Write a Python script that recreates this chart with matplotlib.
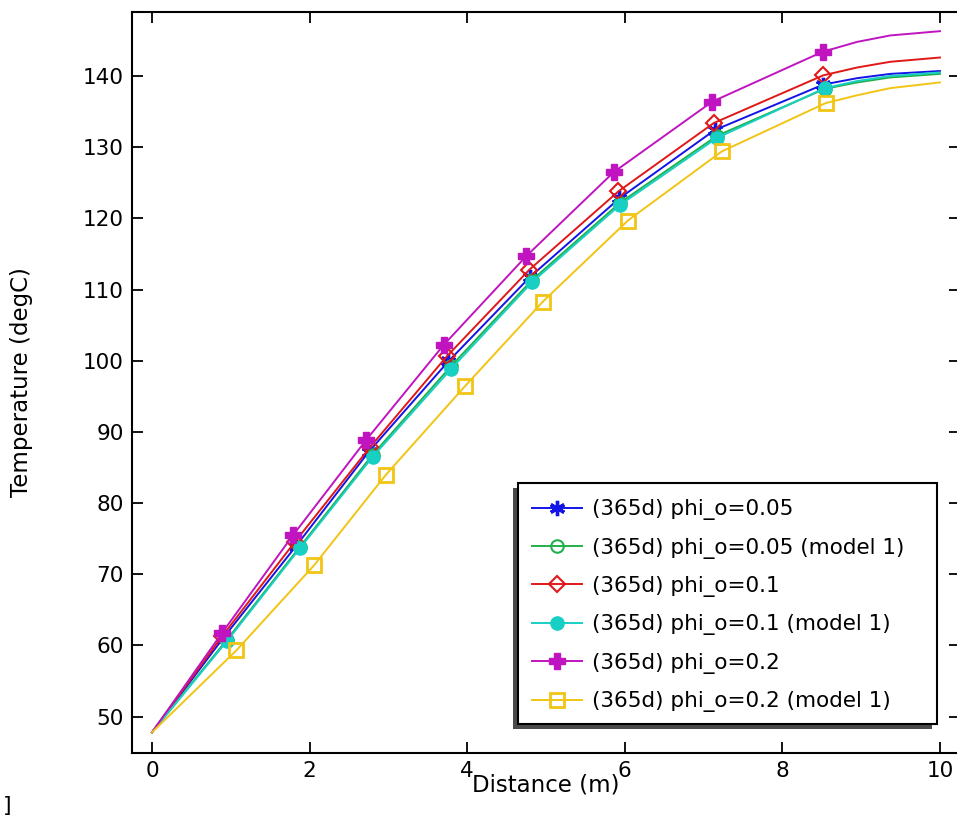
import matplotlib
matplotlib.use("Agg")
import matplotlib.pyplot as plt
from matplotlib.patches import Rectangle

# distance (m) and temperature (degC)
x_phi005 = [0, 0.90, 1.83, 2.75, 3.76, 4.80, 5.93, 7.14, 8.52, 8.95, 9.37, 10]
t_phi005 = [47.8, 61.0, 74.0, 87.2, 99.9, 111.8, 122.8, 132.4, 138.8, 139.7, 140.3, 140.7]

x_phi005_m1 = [0, 0.95, 1.88, 2.80, 3.80, 4.82, 5.94, 7.17, 8.54, 8.95, 9.37, 10]
t_phi005_m1 = [47.8, 60.8, 73.9, 86.8, 99.3, 111.3, 122.2, 131.6, 138.2, 139.1, 139.8, 140.3]

x_phi01 = [0, 0.89, 1.81, 2.77, 3.74, 4.79, 5.92, 7.13, 8.52, 8.95, 9.37, 10]
t_phi01 = [47.8, 61.3, 74.5, 87.9, 100.6, 112.8, 123.8, 133.4, 140.1, 141.2, 142.0, 142.6]

x_phi01_m1 = [0, 0.95, 1.88, 2.80, 3.80, 4.82, 5.94, 7.17, 8.54, 8.95, 9.37, 10]
t_phi01_m1 = [47.8, 60.6, 73.7, 86.5, 98.9, 111.0, 121.9, 131.3, 138.3, 139.3, 140.0, 140.5]

x_phi02 = [0, 0.885, 1.79, 2.72, 3.70, 4.75, 5.86, 7.11, 8.51, 8.95, 9.37, 10]
t_phi02 = [47.8, 61.7, 75.5, 88.9, 102.2, 114.7, 126.5, 136.4, 143.4, 144.8, 145.7, 146.3]

x_phi02_m1 = [0, 1.07, 2.06, 2.97, 3.97, 4.96, 6.04, 7.23, 8.55, 8.95, 9.37, 10]
t_phi02_m1 = [47.8, 59.3, 71.3, 84.0, 96.4, 108.3, 119.7, 129.4, 136.2, 137.3, 138.3, 139.1]

labels = ["(365d) phi_o=0.05", "(365d) phi_o=0.05 (model 1)",
          "(365d) phi_o=0.1", "(365d) phi_o=0.1 (model 1)",
          "(365d) phi_o=0.2", "(365d) phi_o=0.2 (model 1)"]

marker_idx = list(range(1, 9))

fig = plt.figure(figsize=(9.57, 8.19), dpi=100)
ax = fig.add_axes([0.1379, 0.0806, 0.8652, 0.9048])

ax.plot(x_phi005, t_phi005, color="#1414e6", lw=1.4, marker=(6, 2, 0), ms=11, mew=2.4,
        markevery=marker_idx, label=labels[0])
ax.plot(x_phi005_m1, t_phi005_m1, color="#22b04a", lw=1.4, marker="o", ms=9, mew=1.5,
        mfc="none", markevery=marker_idx, label=labels[1])
ax.plot(x_phi01, t_phi01, color="#e01818", lw=1.4, marker="D", ms=8, mew=1.5,
        mfc="none", markevery=marker_idx, label=labels[2])
ax.plot(x_phi01_m1, t_phi01_m1, color="#18cfc4", lw=1.4, marker="o", ms=9.5,
        markevery=marker_idx, label=labels[3])
ax.plot(x_phi02, t_phi02, color="#c014c0", lw=1.4, marker="P", ms=11,
        markevery=marker_idx, label=labels[4])
ax.plot(x_phi02_m1, t_phi02_m1, color="#f2c414", lw=1.4, marker="s", ms=10, mew=2,
        mfc="none", markevery=marker_idx, label=labels[5])

ax.set_xlim(-0.254, 10.254)
ax.set_ylim(44.9, 149.0)
ax.set_xticks([0, 2, 4, 6, 8, 10])
ax.set_yticks(range(50, 141, 10))
ax.tick_params(direction="in", length=8, width=1.3, labelsize=15.5, pad=6,
               top=True, right=True)
for s in ax.spines.values():
    s.set_linewidth(1.5)

ax.set_xlabel("Distance (m)", fontsize=16.5)
ax.xaxis.set_label_coords(0.5, -0.028)
ax.set_ylabel("Temperature (degC)", fontsize=16.5)
ax.yaxis.set_label_coords(-0.119, 0.5)

# legend entries without frame, box and shadow drawn separately
leg = ax.legend(loc="upper left", bbox_to_anchor=(0.483, 0.3426), borderaxespad=0,
                borderpad=0, frameon=False, fontsize=15.5, labelspacing=0.81,
                handlelength=2.33, handletextpad=0.46)
leg.set_zorder(6)
box = (0.4662, 0.0391, 0.9722 - 0.4662, 0.3644 - 0.0391)
ax.add_patch(Rectangle((box[0] - 5 / 828, box[1] - 5 / 741), box[2], box[3],
                       transform=ax.transAxes, facecolor="#4a4a4a", edgecolor="none",
                       zorder=4.8, clip_on=False))
ax.add_patch(Rectangle((box[0], box[1]), box[2], box[3], transform=ax.transAxes,
                       facecolor="white", edgecolor="black", lw=1.5,
                       zorder=4.9, clip_on=False))

fig.text(0.003, 0.008, "]", fontsize=16)

fig.savefig("out.png", dpi=100)
